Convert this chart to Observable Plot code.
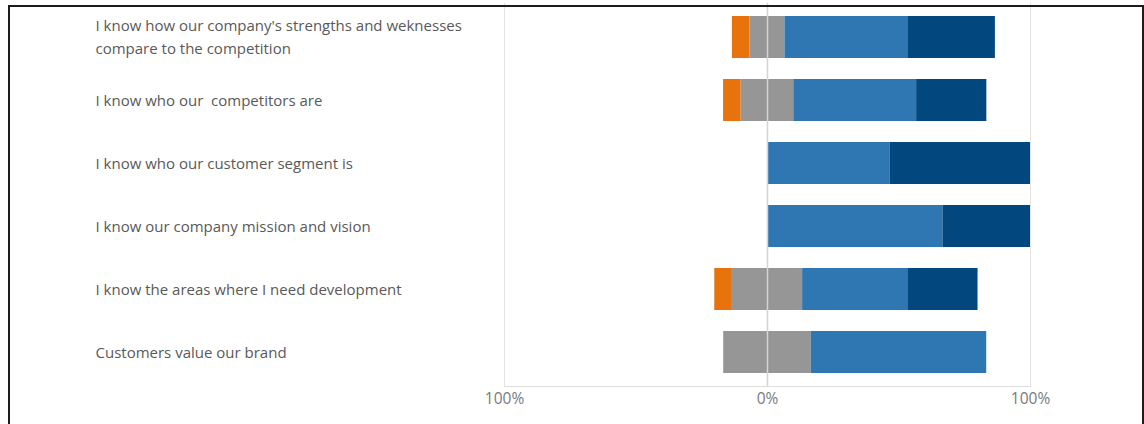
<!DOCTYPE html>
<html><head><meta charset="utf-8">
<script src="https://cdn.jsdelivr.net/npm/d3@7"></script>
<script src="https://cdn.jsdelivr.net/npm/@observablehq/plot@0.6"></script>
<style>
html,body{margin:0;padding:0;background:#fff;}
#wrap{position:relative;width:1144px;height:424px;overflow:hidden;background:#fff;}
#chart{position:absolute;left:0;top:0;}
#border{position:absolute;left:8px;top:5px;width:1132px;height:450px;border:2px solid #1c1c1c;border-bottom:none;pointer-events:none;}
</style></head><body>
<div id="wrap"><div id="chart"></div><div id="border"></div></div>
<script>
const categories = [
  "I know how our company's strengths and weknesses\ncompare to the competition",
  "I know who our  competitors are",
  "I know who our customer segment is",
  "I know our company mission and vision",
  "I know the areas where I need development",
  "Customers value our brand"
];
const responses = ["Disagree", "Neutral", "Agree", "Strongly agree"];
const disagree = [6.7, 6.7, 0, 0, 6.7, 0];
const neutral = [13.3, 20.0, 0, 0, 26.7, 33.3];
const agree = [46.7, 46.7, 46.7, 66.7, 40.0, 66.7];
const stronglyAgree = [33.3, 26.7, 53.3, 33.3, 26.7, 0];
const colors = ["#E8720C", "#969696", "#2E77B3", "#03477F"];
const xTicks = [-100, 0, 100];

const rows = categories.flatMap((c, i) => {
  const n = neutral[i] / 2;
  const segs = [
    {cat: c, resp: "Disagree", x1: -n - disagree[i], x2: -n},
    {cat: c, resp: "Neutral", x1: -n, x2: n},
    {cat: c, resp: "Agree", x1: n, x2: n + agree[i]},
    {cat: c, resp: "Strongly agree", x1: n + agree[i], x2: n + agree[i] + stronglyAgree[i]}
  ];
  return segs.filter(s => s.x2 - s.x1 > 0);
});

const chart = Plot.plot({
  width: 1144,
  height: 424,
  marginLeft: 504,
  marginRight: 114,
  marginTop: 3,
  marginBottom: 38,
  style: {fontFamily: "'Open Sans', sans-serif", background: "transparent"},
  x: {domain: [-100, 100]},
  y: {domain: categories, paddingInner: 0.33, paddingOuter: 0.165},
  color: {domain: responses, range: colors},
  marks: [
    Plot.ruleX([-100, 100], {stroke: "#e4e4e4"}),
    Plot.frame({anchor: "bottom", stroke: "#dedede"}),
    Plot.barX(rows, {y: "cat", x1: "x1", x2: "x2", fill: "resp"}),
    Plot.ruleX([0], {stroke: "#d4d4d4", strokeWidth: 1.5}),
    Plot.axisY({tickSize: 0, tickPadding: 0, textAnchor: "start", dx: -409, dy: -2, fontSize: 15, color: "#595959", lineHeight: 1.5, label: null}),
    Plot.axisX({ticks: xTicks, tickFormat: d => Math.abs(d) + "%", tickSize: 0, tickPadding: 6, fontSize: 15.5, color: "#7a7a7a", label: null})
  ]
});
document.getElementById("chart").appendChild(chart);
</script>
</body></html>
